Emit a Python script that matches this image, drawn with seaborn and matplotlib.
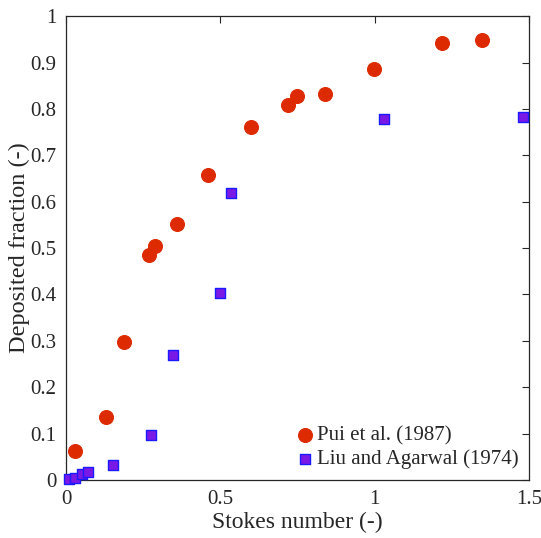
import matplotlib
matplotlib.use("Agg")
import matplotlib.pyplot as plt
import seaborn as sns
import pandas as pd

pui_stk = [0.029, 0.130, 0.188, 0.269, 0.288, 0.360, 0.460, 0.599, 0.719, 0.748, 0.839, 0.998, 1.218, 1.348]
pui_dep = [0.062, 0.136, 0.297, 0.485, 0.504, 0.552, 0.657, 0.761, 0.808, 0.828, 0.832, 0.886, 0.942, 0.948]
liu_stk = [0.010, 0.029, 0.052, 0.071, 0.152, 0.275, 0.347, 0.499, 0.535, 1.030, 1.481]
liu_dep = [0.003, 0.005, 0.012, 0.017, 0.032, 0.097, 0.269, 0.403, 0.619, 0.778, 0.782]
labels = ["Pui et al. (1987)", "Liu and Agarwal (1974)"]
xticks = [0, 0.5, 1, 1.5]
yticks = [0, 0.1, 0.2, 0.3, 0.4, 0.5, 0.6, 0.7, 0.8, 0.9, 1.0]

sns.set_style("white")
plt.rcParams['font.family'] = ['Liberation Serif', 'DejaVu Serif']
plt.rcParams['mathtext.fontset'] = 'stix'

df_pui = pd.DataFrame({"x": pui_stk, "y": pui_dep})
df_liu = pd.DataFrame({"x": liu_stk, "y": liu_dep})

fig = plt.figure(figsize=(5.41, 5.38), dpi=100)
ax = fig.add_axes([0.122, 0.108, 0.856, 0.862])

sns.scatterplot(data=df_pui, x="x", y="y", ax=ax, marker="o", s=100,
                color="#de2a00", edgecolor="#de2a00", linewidth=0.8,
                label=labels[0], zorder=3, clip_on=False)
sns.scatterplot(data=df_liu, x="x", y="y", ax=ax, marker="s", s=58,
                color="#7a18e6", edgecolor="#1a1aff", linewidth=1.0,
                label=labels[1], zorder=3, clip_on=False)

ax.set_xlim(0, 1.5)
ax.set_ylim(0, 1)
ax.set_xticks(xticks)
ax.set_xticklabels(["0", "0.5", "1", "1.5"])
ax.set_yticks(yticks)
ax.set_yticklabels(["0", "0.1", "0.2", "0.3", "0.4", "0.5", "0.6", "0.7", "0.8", "0.9", "1"])
ax.tick_params(direction="in", length=5, width=0.8, labelsize=15, colors="#262626",
               top=True, right=True)
ax.tick_params(axis="y", pad=7)
ax.tick_params(axis="x", pad=7)
for sp in ax.spines.values():
    sp.set_color("#262626")
    sp.set_linewidth(0.9)
    sp.set_visible(True)
ax.set_xlabel("Stokes number (-)", fontsize=17, color="#262626", labelpad=2)
ax.set_ylabel("Deposited fraction (-)", fontsize=17.5, color="#262626", labelpad=0)

leg = ax.legend(loc="lower right", frameon=False, fontsize=15, handletextpad=0.0,
                borderaxespad=0.2, labelspacing=0.2, handlelength=1.2,
                borderpad=0.3)

fig.savefig("out.png", dpi=100)
